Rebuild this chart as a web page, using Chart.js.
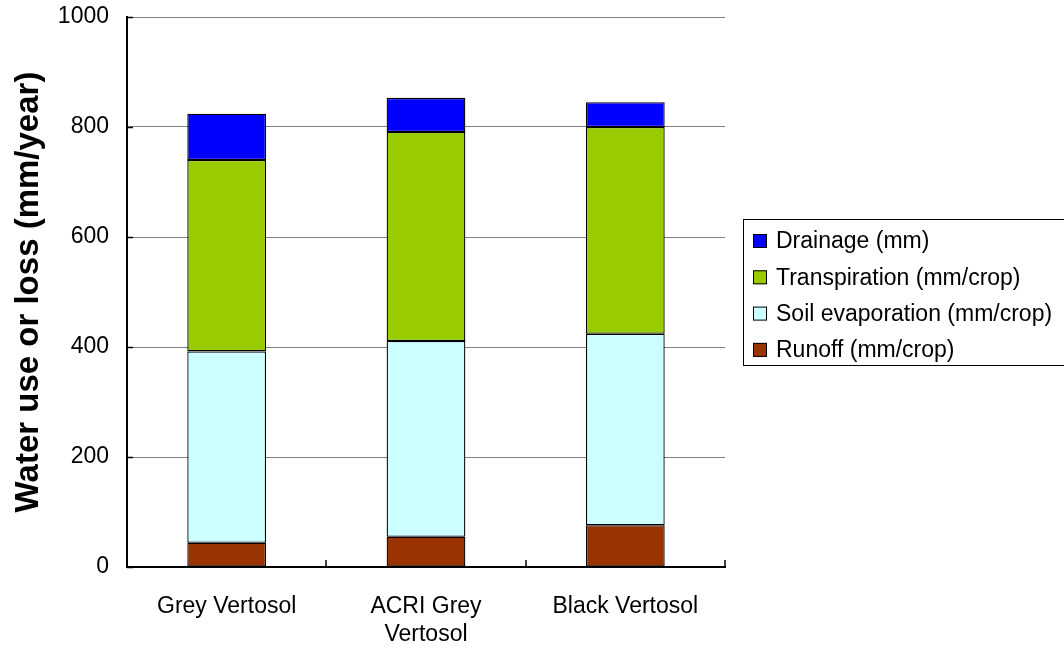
<!DOCTYPE html>
<html>
<head>
<meta charset="utf-8">
<script src="https://cdn.jsdelivr.net/npm/chart.js@4/dist/chart.umd.min.js"></script>
<style>
  html, body { margin: 0; padding: 0; background: #fff; }
  #wrap { width: 1064px; height: 650px; position: relative; }
</style>
</head>
<body>
<div id="wrap"><canvas id="c" width="1064" height="650"></canvas></div>
<script>
// Soil types on the category axis
const categories = ['Grey Vertosol', ['ACRI Grey', 'Vertosol'], 'Black Vertosol'];

// Water balance components (mm)
const runoff = [44, 55, 76];
const soilEvaporation = [348, 356, 348];
const transpiration = [348, 380, 376];
const drainage = [84, 62, 45];

// Value axis ticks
const yTicks = [0, 200, 400, 600, 800, 1000];

const FONT = "'Liberation Sans', Arial, sans-serif";

// Inside tick marks on both axes, drawn through the scales
const tickMarks = {
  id: 'tickMarks',
  afterDatasetsDraw(chart) {
    const { ctx, chartArea, scales } = chart;
    const y = scales.y, x = scales.x;
    ctx.save();
    ctx.strokeStyle = '#000';
    ctx.lineWidth = 1.5;
    yTicks.forEach(v => {
      const py = Math.round(y.getPixelForValue(v)) + 0.5;
      ctx.beginPath();
      ctx.moveTo(chartArea.left, py);
      ctx.lineTo(chartArea.left + 6, py);
      ctx.stroke();
    });
    const n = categories.length;
    for (let i = 0; i < n; i++) {
      const half = (x.getPixelForValue(1) - x.getPixelForValue(0)) / 2;
      const px = Math.round(x.getPixelForValue(i) + half);
      ctx.beginPath();
      ctx.moveTo(px, chartArea.bottom);
      ctx.lineTo(px, chartArea.bottom - 7);
      ctx.stroke();
    }
    ctx.restore();
  }
};

// Boxed legend to the right of the plot, listed top of stack first
const boxLegend = {
  id: 'boxLegend',
  afterDraw(chart) {
    const { ctx } = chart;
    const left = 743, top = 219, bottom = 365;
    ctx.save();
    ctx.strokeStyle = '#000';
    ctx.lineWidth = 1;
    ctx.strokeRect(left + 0.5, top + 0.5, 400, bottom - top);
    const items = chart.data.datasets.slice().reverse();
    ctx.font = '23px ' + FONT;
    ctx.textBaseline = 'middle';
    ctx.textAlign = 'left';
    items.forEach((ds, i) => {
      const cy = 241 + i * 36.3;
      ctx.fillStyle = ds.backgroundColor;
      ctx.fillRect(753, cy - 7, 14, 14);
      ctx.strokeStyle = '#000';
      ctx.strokeRect(753.5, cy - 6.5, 13, 13);
      ctx.fillStyle = '#000';
      ctx.fillText(ds.label, 776, cy + 1);
    });
    ctx.restore();
  }
};

const barStyle = { borderColor: '#000', borderWidth: 1.3, borderSkipped: false,
  categoryPercentage: 1, barPercentage: 0.395 };

new Chart(document.getElementById('c'), {
  type: 'bar',
  data: {
    labels: categories,
    datasets: [
      { label: 'Runoff (mm/crop)', data: runoff, backgroundColor: '#993300', ...barStyle },
      { label: 'Soil evaporation (mm/crop)', data: soilEvaporation, backgroundColor: '#CCFFFF', ...barStyle },
      { label: 'Transpiration (mm/crop)', data: transpiration, backgroundColor: '#99CC00', ...barStyle },
      { label: 'Drainage (mm)', data: drainage, backgroundColor: '#0000FF', ...barStyle }
    ]
  },
  options: {
    responsive: false,
    animation: false,
    devicePixelRatio: 1,
    layout: { padding: { top: 17, right: 339, bottom: 0, left: 0 } },
    plugins: { legend: { display: false }, tooltip: { enabled: false } },
    scales: {
      x: {
        stacked: true,
        grid: { display: true, drawOnChartArea: false, drawTicks: false },
        border: { display: true, color: '#000', width: 2 },
        ticks: { color: '#000', padding: 25, maxRotation: 0, autoSkip: false,
          font: { family: FONT, size: 23, lineHeight: 1.235 } },
        afterFit(scale) { scale.height = 83; scale.paddingLeft = 0; scale.paddingRight = 0; }
      },
      y: {
        stacked: true,
        min: 0, max: 1000,
        afterBuildTicks(scale) { scale.ticks = yTicks.map(v => ({ value: v })); },
        grid: { color: '#808080', lineWidth: 1, drawTicks: false },
        border: { display: true, color: '#000', width: 2 },
        ticks: { color: '#000', padding: 18, font: { family: FONT, size: 23 },
          callback: v => String(v) },
        title: { display: true, text: 'Water use or loss (mm/year)', color: '#000',
          padding: { top: 9, bottom: 0 }, font: { family: FONT, size: 33, weight: 'bold' } },
        afterFit(scale) { scale.width = 127; scale.paddingTop = 0; scale.paddingBottom = 0; }
      }
    }
  },
  plugins: [tickMarks, boxLegend]
});
</script>
</body>
</html>
